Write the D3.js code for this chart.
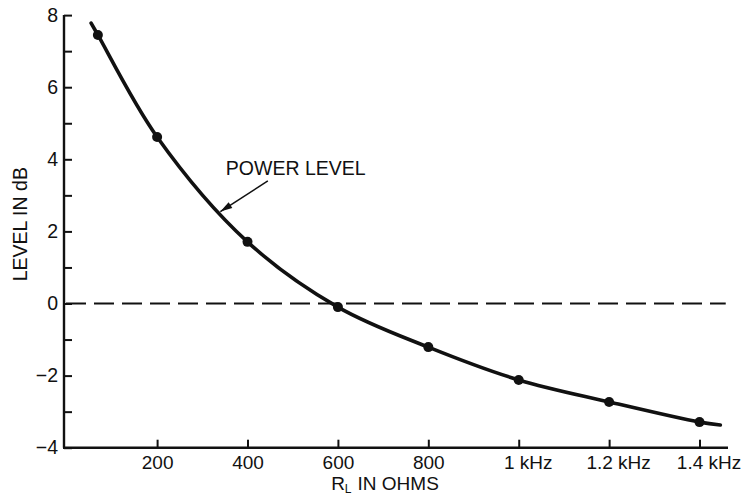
<!DOCTYPE html>
<html>
<head>
<meta charset="utf-8">
<script src="https://cdn.jsdelivr.net/npm/d3@7/dist/d3.min.js"></script>
<style>
  html, body { margin: 0; padding: 0; background: #fff; }
  svg { display: block; }
  text { font-family: "Liberation Sans", Arial, Helvetica, sans-serif; fill: #111; }
</style>
</head>
<body>
<svg id="chart" width="748" height="497"></svg>
<script>
// ---- data ----
const markerR  = [69, 200, 400, 600, 800, 1000, 1200, 1400];
const markerDb = [7.45, 4.62, 1.71, -0.10, -1.21, -2.12, -2.73, -3.29];
const curveR   = [54, 69, 200, 400, 600, 800, 1000, 1200, 1400, 1446];
const curveDb  = [7.78, 7.45, 4.62, 1.71, -0.10, -1.21, -2.12, -2.73, -3.29, -3.37];
const xTickValues = [200, 400, 600, 800, 1000, 1200, 1400];
const xTickLabels = ["200", "400", "600", "800", "1 kHz", "1.2 kHz", "1.4 kHz"];
const yTickValues = [-4, -3, -2, -1, 0, 1, 2, 3, 4, 5, 6, 7, 8];
const yLabelValues = [-4, -2, 0, 2, 4, 6, 8];
const refLineDb = [0];
const annotationText = "POWER LEVEL";
const annotationAt = [352, 3.56];     // text anchor (ohms, dB)
const arrowFrom = [445, 3.40];
const arrowTo = [340, 2.55];

// ---- layout ----
const svg = d3.select("#chart");
const axisX0 = 64;
const x = d3.scaleLinear().domain([0, 1463]).range([66.7, 728]);
const y = d3.scaleLinear().domain([-4, 8]).range([447.7, 15.1]);
const ink = "#111";
const fam = '"Liberation Sans", Arial, sans-serif';

// axis lines
svg.append("line").attr("x1", axisX0).attr("x2", axisX0)
  .attr("y1", y(8)).attr("y2", y(-4))
  .attr("stroke", ink).attr("stroke-width", 2.4);
svg.append("line").attr("x1", axisX0 - 1).attr("x2", x(1463))
  .attr("y1", y(-4)).attr("y2", y(-4))
  .attr("stroke", ink).attr("stroke-width", 2.4);

// y axis ticks (inward) and labels
const yAxis = d3.axisLeft(y).tickValues(yTickValues).tickSizeInner(-8).tickSizeOuter(0)
  .tickFormat(d => yLabelValues.includes(d) ? (d < 0 ? "\u2212" + Math.abs(d) : String(d)) : "")
  .tickPadding(6);
const gy = svg.append("g").attr("transform", `translate(${axisX0},0)`).call(yAxis);
gy.select(".domain").remove();
gy.selectAll(".tick line").attr("stroke", ink).attr("stroke-width", 2);
gy.selectAll(".tick text").style("font-size", "19.5px").attr("fill", ink)
  .style("font-family", fam);

// x axis ticks (inward) and labels
const xAxis = d3.axisBottom(x).tickValues(xTickValues).tickSizeInner(-8).tickSizeOuter(0)
  .tickFormat((d, i) => xTickLabels[i]).tickPadding(8);
const gx = svg.append("g").attr("transform", `translate(0,${y(-4)})`).call(xAxis);
gx.select(".domain").remove();
gx.selectAll(".tick line").attr("stroke", ink).attr("stroke-width", 2);
gx.selectAll(".tick text").style("font-size", "19px").attr("fill", ink)
  .style("font-family", fam)
  .attr("dx", (d, i) => xTickLabels[i].includes("kHz") ? 9 : 0);

// dashed reference line
svg.selectAll(".ref").data(refLineDb).enter().append("line")
  .attr("x1", axisX0 + 2).attr("x2", x(1458))
  .attr("y1", d => y(d)).attr("y2", d => y(d))
  .attr("stroke", ink).attr("stroke-width", 1.9)
  .attr("stroke-dasharray", "20,8");

// curve
const pts = curveR.map((r, i) => [r, curveDb[i]]);
const line = d3.line().x(d => x(d[0])).y(d => y(d[1])).curve(d3.curveCatmullRom.alpha(0.5));
svg.append("path").datum(pts).attr("d", line)
  .attr("fill", "none").attr("stroke", ink).attr("stroke-width", 3.6)
  .attr("stroke-linecap", "round");

// markers
svg.selectAll(".pt").data(markerR.map((r, i) => [r, markerDb[i]])).enter()
  .append("circle").attr("cx", d => x(d[0])).attr("cy", d => y(d[1]))
  .attr("r", 5).attr("fill", ink);

// annotation
svg.append("text").attr("x", x(annotationAt[0])).attr("y", y(annotationAt[1]))
  .style("font-size", "19.5px").text(annotationText);
const ax1 = x(arrowFrom[0]), ay1 = y(arrowFrom[1]), ax2 = x(arrowTo[0]), ay2 = y(arrowTo[1]);
svg.append("line").attr("x1", ax1).attr("y1", ay1).attr("x2", ax2).attr("y2", ay2)
  .attr("stroke", ink).attr("stroke-width", 1.6);
const ang = Math.atan2(ay2 - ay1, ax2 - ax1);
const hl = 12, hw = 3.4;
const bx = ax2 - hl * Math.cos(ang), by = ay2 - hl * Math.sin(ang);
svg.append("path")
  .attr("d", `M${ax2},${ay2}L${bx - hw * Math.sin(ang)},${by + hw * Math.cos(ang)}L${bx + hw * Math.sin(ang)},${by - hw * Math.cos(ang)}Z`)
  .attr("fill", ink);

// axis titles
svg.append("text").attr("transform", `translate(27,${y(2.2)}) rotate(-90)`)
  .attr("text-anchor", "middle").style("font-size", "19.5px").text("LEVEL IN dB");
const xt = svg.append("text").attr("x", x(585)).attr("y", 490).style("font-size", "19px");
xt.append("tspan").text("R");
xt.append("tspan").attr("dy", 3).style("font-size", "12px").text("L");
xt.append("tspan").attr("dy", -3).attr("dx", 6).text("IN OHMS");
</script>
</body>
</html>
